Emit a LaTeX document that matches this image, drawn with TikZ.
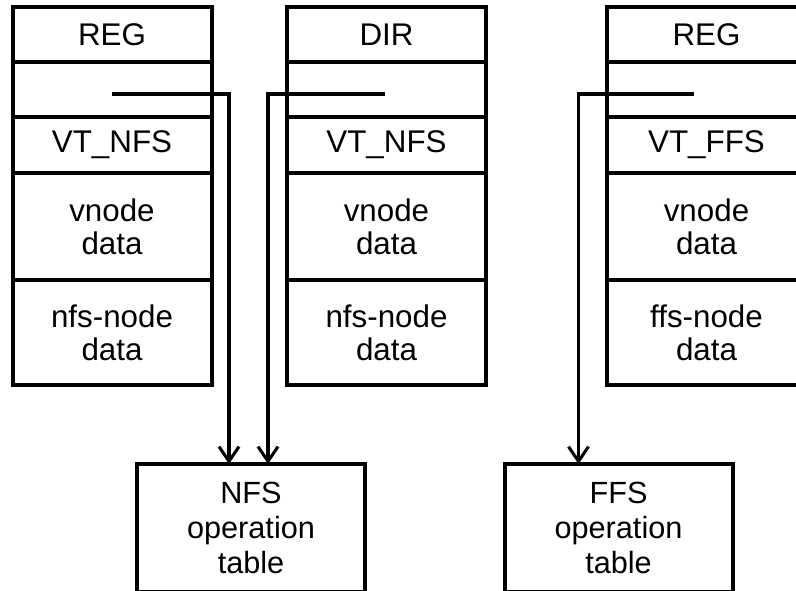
\documentclass[tikz,border=0pt]{standalone}
\usepackage{fontspec}
\setmainfont{Liberation Sans}
\usetikzlibrary{arrows.meta,calc}
\tikzset{
  cell/.style={draw, line width=3pt, minimum width=149.25pt, inner sep=0pt, outer sep=0pt,
    align=center, anchor=north, font=\fontsize{23.5pt}{24.5pt}\selectfont},
  optab/.style={draw, line width=3pt, minimum width=171pt, minimum height=96pt, inner sep=0pt,
    outer sep=0pt, align=center, anchor=north, font=\fontsize{23pt}{26pt}\selectfont},
  ptr/.style={line width=2.3pt, -{Straight Barb[length=11pt,width=15pt,line width=2.3pt]}}
}
\begin{document}
\begin{tikzpicture}[x=0.75pt,y=-0.75pt]
\useasboundingbox (0,0) rectangle (796,590);
\fill[white] (0,0) rectangle (796,590);
\clip (0,0) rectangle (796,590);
% column 1
\node[cell, minimum height=41.25pt] (a1) at (112,7) {REG};
\node[cell, minimum height=41.25pt] (a2) at (112,62) {};
\node[cell, minimum height=42pt] (a3) at (112,117) {VT\_NFS};
\node[cell, minimum height=80.25pt] (a4) at (112,173) {vnode\\data};
\node[cell, minimum height=78.75pt] (a5) at (112,280) {nfs-node\\data};
% column 2
\node[cell, minimum height=41.25pt] (b1) at (386.5,7) {DIR};
\node[cell, minimum height=41.25pt] (b2) at (386.5,62) {};
\node[cell, minimum height=42pt] (b3) at (386.5,117) {VT\_NFS};
\node[cell, minimum height=80.25pt] (b4) at (386.5,173) {vnode\\data};
\node[cell, minimum height=78.75pt] (b5) at (386.5,280) {nfs-node\\data};
% column 3
\node[cell, minimum height=41.25pt] (c1) at (706.5,7) {REG};
\node[cell, minimum height=41.25pt] (c2) at (706.5,62) {};
\node[cell, minimum height=42pt] (c3) at (706.5,117) {VT\_FFS};
\node[cell, minimum height=80.25pt] (c4) at (706.5,173) {vnode\\data};
\node[cell, minimum height=78.75pt] (c5) at (706.5,280) {ffs-node\\data};
% operation tables
\node[optab] (nfs) at (251,464) {NFS\\operation\\table};
\node[optab] (ffs) at (618.5,464) {FFS\\operation\\table};
% pointers
\coordinate (s1) at (112,94);
\coordinate (s2) at (385,94);
\coordinate (s3) at (694,94);
\draw[ptr] (s1) -| ($(nfs.north west)+(92,0)$);
\draw[ptr] (s2) -| ($(nfs.north west)+(131,0)$);
\draw[ptr] (s3) -| ($(ffs.north west)+(74,0)$);
\end{tikzpicture}
\end{document}
